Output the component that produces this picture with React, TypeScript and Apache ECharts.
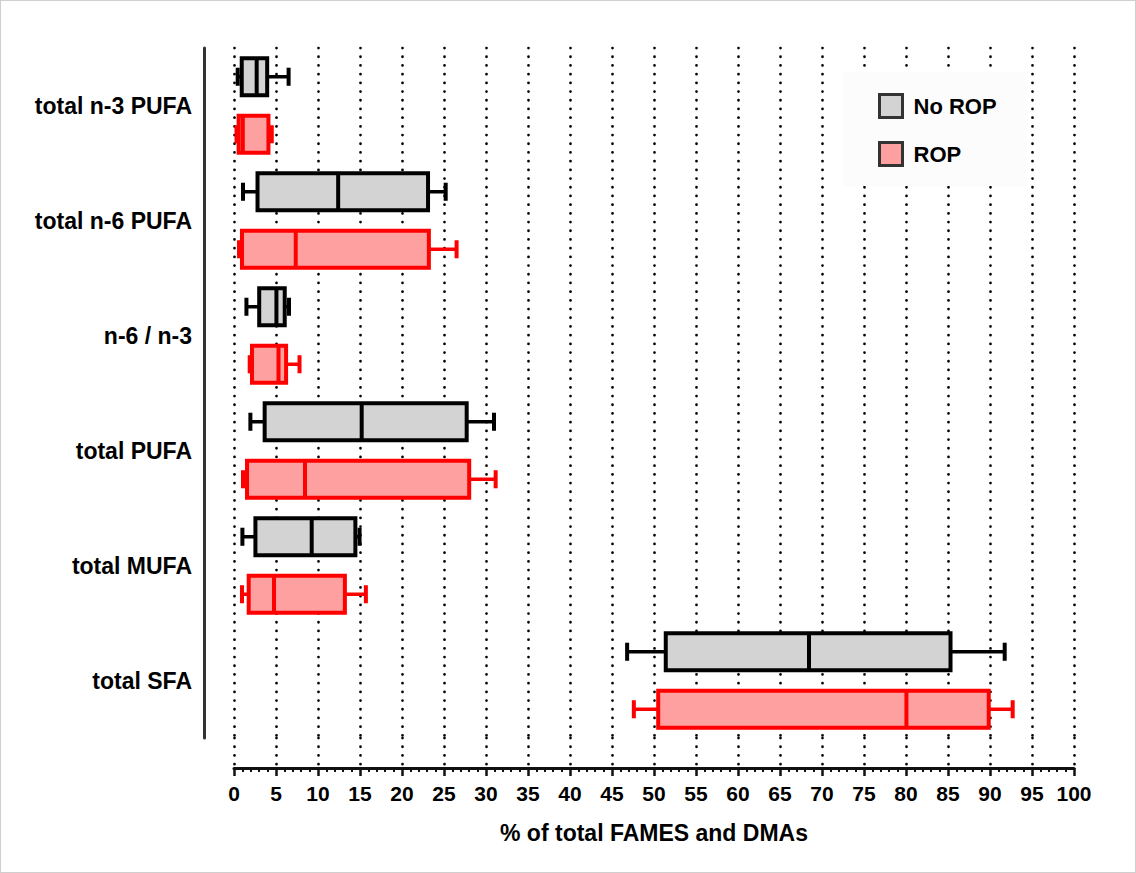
import React, { useEffect, useRef } from "react";
import * as echarts from "echarts";

// Categories (top to bottom)
const categories = [
  "total n-3 PUFA",
  "total n-6 PUFA",
  "n-6 / n-3",
  "total PUFA",
  "total MUFA",
  "total SFA",
];

// [min, Q1, median, Q3, max] per category
const noRopStats = [
  [0.44, 0.92, 2.7, 3.95, 6.5],
  [1.07, 2.8, 12.4, 23.1, 25.2],
  [1.48, 3.0, 5.05, 6.04, 6.55],
  [1.95, 3.65, 15.2, 27.7, 30.95],
  [1.0, 2.55, 9.25, 14.45, 14.95],
  [46.8, 51.4, 68.45, 85.3, 91.75],
];

const ropStats = [
  [0.3, 0.55, 1.05, 4.1, 4.5],
  [0.6, 0.95, 7.35, 23.2, 26.5],
  [1.87, 2.14, 5.3, 6.2, 7.8],
  [1.07, 1.55, 8.45, 28.0, 31.15],
  [0.95, 1.75, 4.76, 13.2, 15.7],
  [47.6, 50.5, 80.05, 89.85, 92.7],
];

const xTicksMin = 0;
const xTicksMax = 100;
const xTickInterval = 5;

const FONT = "'Liberation Sans', Arial, Helvetica, sans-serif";

function makeRender(sign: number, stroke: string, fill: string) {
  return (params: any, api: any) => {
    const cat = api.value(0);
    const vals = [1, 2, 3, 4, 5].map((i) => api.value(i));
    const base = api.coord([0, cat]);
    const band = api.size([0, 1])[1];
    const yc = base[1] + sign * band * 0.25;
    const h = band * 0.32;
    const capH = band * 0.157;
    const xs = vals.map((v: number) => api.coord([v, cat])[0]);
    const [xMin, xQ1, xMed, xQ3, xMax] = xs;
    const line = (x1: number, y1: number, x2: number, y2: number, w: number) => ({
      type: "line",
      shape: { x1, y1, x2, y2 },
      style: { stroke, lineWidth: w, fill: null },
    });
    return {
      type: "group",
      children: [
        line(xMin, yc, xQ1, yc, 3.5),
        line(xQ3, yc, xMax, yc, 3.5),
        line(xMin, yc - capH / 2, xMin, yc + capH / 2, 4),
        line(xMax, yc - capH / 2, xMax, yc + capH / 2, 4),
        {
          type: "rect",
          shape: { x: xQ1, y: yc - h / 2, width: xQ3 - xQ1, height: h },
          style: { fill, stroke, lineWidth: 4 },
        },
        line(xMed, yc - h / 2, xMed, yc + h / 2, 4),
      ],
    };
  };
}

const dottedSplit = {
  show: true,
  lineStyle: { color: "#000", width: 2.7, type: [0.1, 8.6], cap: "round" },
};

export default function App() {
  const ref = useRef<HTMLDivElement>(null);

  useEffect(() => {
    document.body.style.margin = "0";
    const chart = echarts.init(ref.current!, undefined, { renderer: "svg" });
    const toData = (stats: number[][]) => stats.map((s, i) => [i, ...s]);
    chart.setOption({
      animation: false,
      backgroundColor: "#fff",
      textStyle: { fontFamily: FONT },
      grid: [
        { left: 234, right: 62, top: 48, bottom: 135 },
        { left: 234, right: 62, top: 738, bottom: 105 },
      ],
      legend: {
        orient: "vertical",
        left: 843,
        top: 72,
        padding: [21, 30, 19, 35],
        itemWidth: 23,
        itemHeight: 23,
        itemGap: 22,
        backgroundColor: "#fcfcfc",
        selectedMode: false,
        icon: "rect",
        textStyle: {
          fontSize: 22,
          fontWeight: "bold",
          color: "#000",
          fontFamily: FONT,
          padding: [0, 0, 0, 6],
        },
        data: [
          { name: "No ROP", itemStyle: { color: "#d3d3d3", borderColor: "#333", borderWidth: 3 } },
          { name: "ROP", itemStyle: { color: "#ffa0a0", borderColor: "#333", borderWidth: 3 } },
        ],
      },
      xAxis: [
        {
          gridIndex: 0,
          type: "value",
          min: xTicksMin,
          max: xTicksMax,
          interval: xTickInterval,
          axisLine: { show: false },
          axisTick: { show: false },
          axisLabel: { show: false },
          splitLine: dottedSplit,
        },
        {
          gridIndex: 1,
          type: "value",
          min: xTicksMin,
          max: xTicksMax,
          interval: xTickInterval,
          axisLine: { show: true, onZero: false, lineStyle: { color: "#111", width: 3 } },
          axisTick: { show: true, length: 8, lineStyle: { color: "#111", width: 2.5 } },
          minorTick: { show: true, splitNumber: 5, length: 4, lineStyle: { color: "#111", width: 2 } },
          axisLabel: {
            show: true,
            fontSize: 21,
            fontWeight: "bold",
            color: "#000",
            margin: 15,
            fontFamily: FONT,
          },
          splitLine: dottedSplit,
          name: "% of total FAMES and DMAs",
          nameLocation: "middle",
          nameGap: 53,
          nameTextStyle: { fontSize: 23, fontWeight: "bold", color: "#000", fontFamily: FONT },
        },
      ],
      yAxis: [
        {
          gridIndex: 0,
          type: "category",
          data: categories,
          inverse: true,
          offset: 30,
          axisLine: { show: true, onZero: false, lineStyle: { color: "#333", width: 3 } },
          axisTick: { show: false },
          axisLabel: {
            fontSize: 23,
            fontWeight: "bold",
            color: "#000",
            margin: 12,
            fontFamily: FONT,
          },
          splitLine: { show: false },
        },
        {
          gridIndex: 1,
          type: "value",
          show: false,
          min: 0,
          max: 1,
          splitLine: { show: false },
        },
      ],
      series: [
        {
          name: "No ROP",
          type: "custom",
          xAxisIndex: 0,
          yAxisIndex: 0,
          itemStyle: { color: "#d3d3d3" },
          encode: { x: [1, 2, 3, 4, 5], y: 0 },
          renderItem: makeRender(-1, "#000", "#d3d3d3"),
          data: toData(noRopStats),
          z: 3,
        },
        {
          name: "ROP",
          type: "custom",
          xAxisIndex: 0,
          yAxisIndex: 0,
          itemStyle: { color: "#ffa0a0" },
          encode: { x: [1, 2, 3, 4, 5], y: 0 },
          renderItem: makeRender(1, "#ff0000", "#ffa0a0"),
          data: toData(ropStats),
          z: 3,
        },
      ],
    });
    return () => chart.dispose();
  }, []);

  return (
    <div style={{ position: "relative", width: 1136, height: 873 }}>
      <div ref={ref} style={{ position: "absolute", left: 0, top: 0, width: 1136, height: 873 }} />
      <div
        style={{
          position: "absolute",
          left: 0,
          top: 0,
          width: 1136,
          height: 873,
          boxSizing: "border-box",
          border: "1px solid #cfcfcf",
          pointerEvents: "none",
        }}
      />
    </div>
  );
}
